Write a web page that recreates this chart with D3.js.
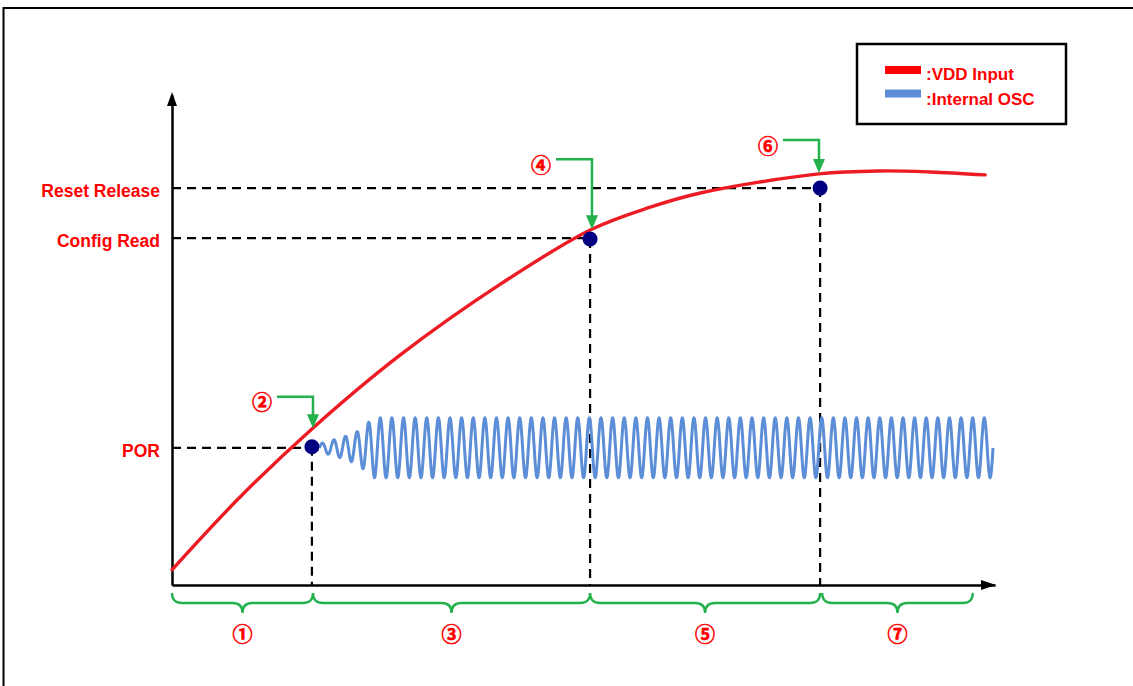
<!DOCTYPE html>
<html>
<head>
<meta charset="utf-8">
<script src="https://cdn.jsdelivr.net/npm/d3@7"></script>
<style>
  html, body { margin: 0; padding: 0; background: #fff; }
  svg { display: block; }
</style>
</head>
<body>
<svg id="chart" width="1133" height="686"></svg>
<script>
// ---------------- DATA ----------------
// abstract time (0..100) and voltage (0..100) units
const vddT = [0, 8.3, 17.1, 27.7, 39.9, 51.0, 58.1, 64.2, 78.6, 86.0, 92.1, 98.8];
const vddV = [3.1, 18.0, 32.0, 46.9, 61.4, 72.6, 77.1, 80.0, 83.9, 84.5, 84.3, 83.7];

const levelNames = ["Reset Release", "Config Read", "POR"];
const levelV     = [81.0, 70.8, 28.0];
const eventT     = [78.75, 50.8, 17.0];   // time at which each level is reached (dots)
const dotV       = [81.0, 70.6, 28.2];

// internal oscillator: start/end, number of cycles, centre level, amplitude envelope
const oscStartT = 17.9, oscEndT = 99.76, oscCycles = 58, oscCenterV = 28.0;
const oscEnvT   = [17.9, 19.6, 21.0, 22.5, 23.8, 24.6, 99.76];
const oscEnvAmp = [0.8, 1.6, 2.3, 3.3, 5.1, 6.1, 6.1];

// phase annotations (arrows) and phase braces
const arrowLabels = ["②", "④", "⑥"];
const arrowT      = [17.13, 51.03, 78.61];
const arrowTopV   = [38.4, 86.9, 90.8];
const arrowTipV   = [32.0, 72.6, 84.1];

const braceLabels = ["①", "③", "⑤", "⑦"];
const braceStartT = [0, 17.13, 50.8, 79.0];
const braceEndT   = [17.13, 50.8, 78.75, 97.3];

const legendNames  = [":VDD Input", ":Internal OSC"];
const legendColors = ["#ff0000", "#5b8ed6"];

// ---------------- DRAW ----------------
const svg = d3.select("#chart");
const RED = "#ed1c24", GREEN = "#22b14c", BLUE = "#5b8ed6", NAVY = "#000080";

const x = d3.scaleLinear().domain([0, 100]).range([172, 995]);
const y = d3.scaleLinear().domain([0, 100]).range([585, 95]);

// frame
svg.append("rect").attr("x", 3.5).attr("y", 8).attr("width", 1300).attr("height", 900)
  .attr("fill", "none").attr("stroke", "#000").attr("stroke-width", 2);

// dashed guide lines
const g = svg.append("g");
levelV.forEach((v, i) => {
  g.append("line")
    .attr("x1", x(0)).attr("x2", x(eventT[i]))
    .attr("y1", y(v)).attr("y2", y(v))
    .attr("stroke", "#000").attr("stroke-width", 2.2).attr("stroke-dasharray", "9,6");
  g.append("line")
    .attr("x1", x(eventT[i])).attr("x2", x(eventT[i]))
    .attr("y1", y(dotV[i])).attr("y2", y(0))
    .attr("stroke", "#000").attr("stroke-width", 2.2).attr("stroke-dasharray", "9,6");
});

// axes
const yAxis = d3.axisLeft(y).tickValues(levelV).tickFormat((d, i) => levelNames[i])
  .tickSize(0).tickSizeOuter(0).tickPadding(12);
const ya = svg.append("g").attr("transform", `translate(${x(0)},0)`).call(yAxis);
ya.select(".domain").attr("stroke", "#000").attr("stroke-width", 2.5);
ya.selectAll("text").attr("fill", "#ff0000").attr("font-family", "Liberation Sans, Arial, sans-serif")
  .attr("font-weight", "bold").attr("font-size", 17.5).attr("dy", "0.5em");

const xAxis = d3.axisBottom(x).tickValues([]).tickSizeOuter(0);
const xa = svg.append("g").attr("transform", `translate(0,${y(0)})`).call(xAxis);
xa.select(".domain").attr("stroke", "#000").attr("stroke-width", 2.5);

// arrow heads of axes
svg.append("path")
  .attr("d", `M${x(100) + 1},${y(0)} l-15,-5 l0,10 z`).attr("fill", "#000");
svg.append("path")
  .attr("d", `M${x(0)},${y(100) - 3} l-5,14 l10,0 z`).attr("fill", "#000");

// oscillator
const envScale = d3.scaleLinear().domain(oscEnvT).range(oscEnvAmp).clamp(true);
const nSamples = oscCycles * 24;
const oscPts = d3.range(nSamples + 1).map(k => {
  const t = oscStartT + (oscEndT - oscStartT) * k / nSamples;
  const phase = 2 * Math.PI * oscCycles * k / nSamples;
  return [t, oscCenterV + envScale(t) * Math.sin(phase)];
});
svg.append("path")
  .attr("d", d3.line().x(d => x(d[0])).y(d => y(d[1])).curve(d3.curveLinear)(oscPts))
  .attr("fill", "none").attr("stroke", BLUE).attr("stroke-width", 3)
  .attr("stroke-linejoin", "round");

// VDD curve
const vddPts = vddT.map((t, i) => [t, vddV[i]]);
svg.append("path")
  .attr("d", d3.line().x(d => x(d[0])).y(d => y(d[1])).curve(d3.curveCatmullRom.alpha(0.5))(vddPts))
  .attr("fill", "none").attr("stroke", RED).attr("stroke-width", 3.4).attr("stroke-linecap", "round");

// dots
eventT.forEach((t, i) => {
  svg.append("circle").attr("cx", x(t)).attr("cy", y(dotV[i])).attr("r", 7.5).attr("fill", NAVY);
});

// arrows with circled numbers
const circledFont = "Noto Sans CJK SC, DejaVu Sans, sans-serif";
function circled(sel) {
  return sel.attr("text-anchor", "middle").attr("dominant-baseline", "central")
    .attr("font-family", circledFont).attr("font-size", 20).attr("font-weight", "bold")
    .attr("fill", "#ff0000").attr("stroke", "#ff0000").attr("stroke-width", 0.6);
}
arrowLabels.forEach((lab, i) => {
  const ax = x(arrowT[i]), ty = y(arrowTopV[i]), tip = y(arrowTipV[i]);
  svg.append("path")
    .attr("d", `M${ax - 36},${ty} L${ax},${ty} L${ax},${tip - 12}`)
    .attr("fill", "none").attr("stroke", GREEN).attr("stroke-width", 2.5);
  svg.append("path")
    .attr("d", `M${ax},${tip} l-6,-14 l12,0 z`).attr("fill", GREEN);
  circled(svg.append("text").attr("x", ax - 51).attr("y", ty + 5)).text(lab);
});

// braces
const bTop = 593, bMid = 603, bCusp = 613;
braceLabels.forEach((lab, i) => {
  const x1 = x(braceStartT[i]), x2 = x(braceEndT[i]), xm = (x1 + x2) / 2;
  const r = 10;
  const d = `M${x1},${bTop} Q${x1},${bMid} ${x1 + r},${bMid} L${xm - r},${bMid} Q${xm},${bMid} ${xm},${bCusp}` +
            ` Q${xm},${bMid} ${xm + r},${bMid} L${x2 - r},${bMid} Q${x2},${bMid} ${x2},${bTop}`;
  svg.append("path").attr("d", d).attr("fill", "none").attr("stroke", GREEN).attr("stroke-width", 2.3);
  circled(svg.append("text").attr("x", xm).attr("y", 633)).text(lab);
});

// legend
const lg = svg.append("g");
lg.append("rect").attr("x", 857).attr("y", 44).attr("width", 209).attr("height", 80)
  .attr("fill", "#fff").attr("stroke", "#000").attr("stroke-width", 2.5);
legendNames.forEach((name, i) => {
  lg.append("rect").attr("x", 885).attr("y", 66 + i * 23.5).attr("width", 36).attr("height", 8)
    .attr("fill", legendColors[i]);
  lg.append("text").attr("x", 926).attr("y", 80 + i * 24.5)
    .attr("font-family", "Liberation Sans, Arial, sans-serif").attr("font-weight", "bold")
    .attr("font-size", 17).attr("fill", "#ff0000").text(name);
});
</script>
</body>
</html>
